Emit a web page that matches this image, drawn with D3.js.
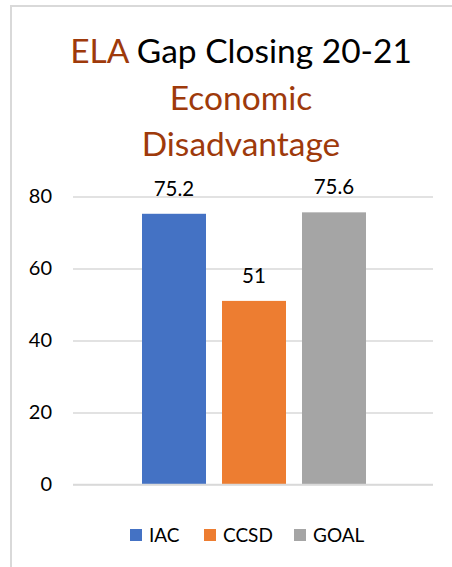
<!DOCTYPE html>
<html>
<head>
<meta charset="utf-8">
<script src="https://cdn.jsdelivr.net/npm/d3@7"></script>
<style>
  html, body { margin: 0; padding: 0; background: #fff; }
  svg { display: block; font-family: Lato, "Open Sans", sans-serif; }
</style>
</head>
<body>
<svg id="chart" width="452" height="567"></svg>
<script>
const series = ["IAC", "CCSD", "GOAL"];
const values = [75.2, 51, 75.6];
const colors = ["#4472C4", "#ED7D31", "#A5A5A5"];
const yTicks = [0, 20, 40, 60, 80];
const titleLines = [
  [{t: "ELA", c: "#9E3A0B"}, {t: " Gap Closing 20-21", c: "#000000"}],
  [{t: "Economic", c: "#9E3A0B"}],
  [{t: "Disadvantage", c: "#9E3A0B"}]
];

(function () {
const svg = d3.select("#chart");

// chart frame
svg.append("line").attr("x1", 11).attr("x2", 11).attr("y1", 6).attr("y2", 567)
  .attr("stroke", "#d9d9d9").attr("stroke-width", 2);
svg.append("line").attr("x1", 10).attr("x2", 452).attr("y1", 6).attr("y2", 6)
  .attr("stroke", "#d9d9d9").attr("stroke-width", 2);

// title
const titleBaselines = [63, 110, 156];
titleLines.forEach((parts, i) => {
  const t = svg.append("text")
    .attr("x", 241).attr("y", titleBaselines[i])
    .attr("text-anchor", "middle")
    .attr("font-size", 33.5);
  parts.forEach(p => t.append("tspan").attr("fill", p.c).text(p.t));
});

const pLeft = 73, pRight = 433, pTop = 196.5, pBottom = 484.5;
const y = d3.scaleLinear().domain([0, 80]).range([pBottom, pTop]);
const x = d3.scaleBand().domain(series).range([134, 374]).paddingInner(0.2).paddingOuter(0.1);

const axis = d3.axisLeft(y).tickValues(yTicks).tickSizeInner(-(pRight - pLeft)).tickSizeOuter(0).tickPadding(21);
const g = svg.append("g").attr("transform", `translate(${pLeft},0)`).call(axis);
g.select(".domain").remove();
g.selectAll(".tick line").attr("stroke", "#d9d9d9").attr("stroke-width", 1.5);
g.selectAll(".tick text").attr("font-size", 20).attr("fill", "#000")
  .attr("font-family", "Lato, 'Open Sans', sans-serif");

// bars
svg.append("g").selectAll("rect").data(series).join("rect")
  .attr("x", d => x(d))
  .attr("width", x.bandwidth())
  .attr("y", (d, i) => y(values[i]))
  .attr("height", (d, i) => y(0) - y(values[i]))
  .attr("fill", (d, i) => colors[i]);

// zero line over bars
svg.append("line").attr("x1", pLeft).attr("x2", pRight).attr("y1", y(0)).attr("y2", y(0))
  .attr("stroke", "#d9d9d9").attr("stroke-width", 1.5);

// value labels
svg.append("g").selectAll("text").data(series).join("text")
  .attr("x", d => x(d) + x.bandwidth() / 2)
  .attr("y", (d, i) => y(values[i]) - 18)
  .attr("text-anchor", "middle")
  .attr("font-size", 20.5)
  .attr("fill", "#000")
  .text((d, i) => values[i]);

// legend
const legendX = [130, 204, 294];
const lg = svg.append("g").selectAll("g").data(series).join("g")
  .attr("transform", (d, i) => `translate(${legendX[i]},529)`);
lg.append("rect").attr("width", 12).attr("height", 12).attr("fill", (d, i) => colors[i]);
lg.append("text").attr("x", 19).attr("y", 12.5).attr("font-size", 19).attr("fill", "#000").text(d => d);
})();
</script>
</body>
</html>
